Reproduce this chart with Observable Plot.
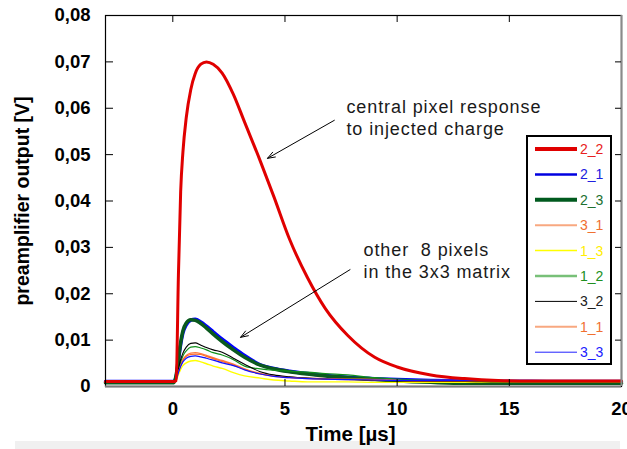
<!DOCTYPE html>
<html><head><meta charset="utf-8">
<script src="https://cdn.jsdelivr.net/npm/d3@7"></script>
<script src="https://cdn.jsdelivr.net/npm/@observablehq/plot@0.6"></script>
<style>
body{margin:0;background:#fff;}
#wrap{position:relative;width:627px;height:449px;overflow:hidden;}
#band{position:absolute;left:15px;top:441px;width:605px;height:8px;background:#f0f0f0;}
#chart{position:absolute;left:0;top:0;}
#chart svg{background:transparent !important;}
</style></head><body>
<div id="wrap"><div id="band"></div><div id="chart"></div></div>
<script>
// time in microseconds
const time = [-3, -1.5, 0, 0.05, 0.15, 0.25, 0.35, 0.45, 0.6, 0.8, 1.0, 1.25, 1.5, 1.8, 2.2, 2.7, 3.2, 3.9, 4.5, 5.2, 6, 6.8, 7.8, 9, 10, 11.5, 13, 14.5, 16, 18, 20];
// preamplifier output [V]
const v22 = [0.0011,0.0011,0.0011,0.0011,0.0013,0.024,0.042,0.0505,0.058,0.064,0.0675,0.0695,0.0700,0.0695,0.0676,0.0630,0.0570,0.0486,0.0410,0.0318,0.0235,0.0168,0.0110,0.0063,0.0042,0.0025,0.0017,0.0013,0.0012,0.0012,0.0012];
const v21 = [0.0011,0.0011,0.0011,0.0011,0.0022,0.0055,0.0090,0.0115,0.0133,0.0143,0.0145,0.0139,0.0130,0.0118,0.0102,0.0084,0.0067,0.0047,0.0039,0.0033,0.0028,0.0024,0.0020,0.0017,0.0015,0.0013,0.0012,0.0011,0.0011,0.0010,0.0010];
const v23 = [0.0008,0.0008,0.0008,0.0009,0.0024,0.0060,0.0095,0.0120,0.0137,0.0144,0.0143,0.0136,0.0126,0.0113,0.0097,0.0079,0.0063,0.0046,0.0038,0.0032,0.0027,0.0023,0.0019,0.0015,0.0012,0.0009,0.0007,0.0007,0.0007,0.0007,0.0007];
const v31 = [0.0011,0.0011,0.0011,0.0011,0.0016,0.0032,0.0047,0.0058,0.0067,0.0072,0.0073,0.0071,0.0067,0.0062,0.0056,0.0048,0.0038,0.0028,0.0023,0.0020,0.0018,0.0017,0.0016,0.0015,0.0014,0.0013,0.0013,0.0012,0.0012,0.0012,0.0012];
const v13 = [0.0009,0.0009,0.0009,0.0009,0.0013,0.0026,0.0037,0.0045,0.0051,0.0055,0.0056,0.0053,0.0049,0.0044,0.0039,0.0030,0.0023,0.0018,0.0014,0.0012,0.0010,0.0010,0.0010,0.0009,0.0009,0.0009,0.0009,0.0009,0.0009,0.0009,0.0009];
const v12 = [0.0010,0.0010,0.0010,0.0010,0.0017,0.0035,0.0053,0.0066,0.0077,0.0085,0.0086,0.0083,0.0079,0.0073,0.0068,0.0058,0.0044,0.0038,0.0035,0.0033,0.0031,0.0028,0.0025,0.0019,0.0016,0.0013,0.0012,0.0011,0.0011,0.0011,0.0011];
const v32 = [0.0010,0.0010,0.0010,0.0010,0.0018,0.0038,0.0058,0.0072,0.0085,0.0093,0.0094,0.0089,0.0084,0.0079,0.0074,0.0061,0.0048,0.0032,0.0025,0.0021,0.0018,0.0016,0.0015,0.0013,0.0012,0.0011,0.0011,0.0010,0.0010,0.0010,0.0010];
const v11 = [0.0011,0.0011,0.0011,0.0011,0.0015,0.0031,0.0045,0.0056,0.0065,0.0069,0.0070,0.0069,0.0065,0.0060,0.0054,0.0046,0.0037,0.0027,0.0022,0.0019,0.0017,0.0016,0.0015,0.0014,0.0013,0.0012,0.0012,0.0012,0.0012,0.0012,0.0012];
const v33 = [0.0012,0.0012,0.0012,0.0012,0.0015,0.0030,0.0043,0.0053,0.0061,0.0065,0.0066,0.0064,0.0061,0.0057,0.0051,0.0045,0.0036,0.0027,0.0022,0.0019,0.0017,0.0016,0.0015,0.0014,0.0013,0.0013,0.0013,0.0013,0.0013,0.0013,0.0013];

const seriesNames = ["2_2","2_1","2_3","3_1","1_3","1_2","3_2","1_1","3_3"];
const seriesArrays = [v22, v21, v23, v31, v13, v12, v32, v11, v33];
const lineColors = ["#e00000","#0000ff","#0a5a1e","#ff7a40","#ffff00","#10901a","#000000","#ff6a28","#1010ff"];
const lineWidths = [3, 3.4, 3.6, 1.4, 1.4, 1.2, 1.1, 1.2, 1.2];
const legendLineColors = ["#e00000","#0000e0","#005a1e","#f8a880","#ffff00","#78c078","#000000","#f8a880","#2020ff"];
const legendLineWidths = [4, 2.5, 4, 2, 1.5, 2.5, 1, 2, 1];
const legendTextColors = ["#e82020","#2020e0","#207030","#f07030","#ffee00","#209020","#202020","#f07030","#2020ff"];
const drawOrder = ["2_1","2_3","3_1","1_3","1_2","3_2","1_1","3_3","2_2"];

const yTicks = [0, 0.01, 0.02, 0.03, 0.04, 0.05, 0.06, 0.07, 0.08];
const yInnerTicks = [0.01, 0.02, 0.03, 0.04, 0.05, 0.06, 0.07];
const xTicks = [0, 5, 10, 15, 20];
const xTopTicks = [0, 5, 10, 15];
const xBottomTicks = [5, 10, 15];

const annoText = ["central pixel response", "to injected charge", "other \u00a08 pixels", "in the 3x3 matrix"];
const annoX = [7.74, 7.74, 8.5, 8.5];
const annoY = [0.0602, 0.0554, 0.0293, 0.0246];
const arrowX1 = [7.2, 7.9], arrowY1 = [0.0574, 0.0252], arrowX2 = [4.22, 3.02], arrowY2 = [0.0492, 0.0106];

const rows = seriesNames.map((name, k) => time.map((t, i) => ({series: name, t, v: seriesArrays[k][i]})));
const fmt = d => d === 0 ? "0" : d3.format(".2f")(d).replace(".", ",");
const font = "Liberation Sans, Arial, sans-serif";

const W = 627, H = 449, mL = 105, mR = 6, mT = 15, mB = 63;
const plotW = W - mL - mR, plotH = H - mT - mB;

const lineMarks = drawOrder.map(name => {
  const k = seriesNames.indexOf(name);
  return Plot.line(rows[k], {x: "t", y: "v", stroke: lineColors[k], strokeWidth: lineWidths[k], curve: "monotone-x"});
});

const chart = Plot.plot({
  width: W, height: H,
  marginLeft: mL, marginRight: mR, marginTop: mT, marginBottom: mB,
  style: {fontFamily: font, background: "transparent", color: "#000"},
  x: {domain: [-3, 20]},
  y: {domain: [0, 0.08]},
  marks: [
    ...lineMarks,
    Plot.frame({stroke: "#000", strokeWidth: 1.2}),
    Plot.ruleY([0], {stroke: "#7a7a7a", strokeWidth: 2}),
    Plot.ruleX([20], {stroke: "#8a8a8a", strokeWidth: 2}),
    // inward tick marks
    Plot.tickY(yInnerTicks, {y: d => d, insetRight: plotW - 8, stroke: "#000", strokeWidth: 1}),
    Plot.tickY(yInnerTicks, {y: d => d, insetLeft: plotW - 6, stroke: "#000", strokeWidth: 1}),
    Plot.tickX(xTopTicks, {x: d => d, insetBottom: plotH - 7, stroke: "#000", strokeWidth: 1}),
    Plot.tickX(xBottomTicks, {x: d => d, insetTop: plotH - 7, stroke: "#000", strokeWidth: 1}),
    Plot.axisY({ticks: yTicks, tickSize: 0, tickPadding: 15, tickFormat: fmt, fontWeight: "bold", fontSize: 18.5, label: null}),
    Plot.axisX({ticks: xTicks, tickSize: 0, tickPadding: 15, fontWeight: "bold", fontSize: 18.5, label: null}),
    Plot.text(["preamplifier output [V]"], {frameAnchor: "left", rotate: -90, dx: -83, textAnchor: "middle", lineAnchor: "middle", fontWeight: "bold", fontSize: 19.5}),
    Plot.text(["Time [µs]"], {frameAnchor: "bottom", dy: 48, dx: -13, textAnchor: "middle", lineAnchor: "middle", fontWeight: "bold", fontSize: 20.5}),
    Plot.text(annoText, {x: (d, i) => annoX[i], y: (d, i) => annoY[i], text: d => d, textAnchor: "start", fontSize: 18, fill: "#1a1a1a"}),
    Plot.arrow(arrowX1, {x1: (d, i) => arrowX1[i], y1: (d, i) => arrowY1[i], x2: (d, i) => arrowX2[i], y2: (d, i) => arrowY2[i], stroke: "#000", strokeWidth: 1, headLength: 12, headAngle: 40})
  ]
});

const svg = d3.select(chart);
svg.selectAll("text").filter(function() { return annoText.includes(this.textContent); }).attr("letter-spacing", "0.9px");

// legend box inside the plot
const lg = svg.append("g").attr("font-family", font).attr("font-size", 14).attr("text-anchor", "start");
lg.append("rect").attr("x", 527).attr("y", 136).attr("width", 84).attr("height", 228)
  .attr("fill", "#fff").attr("stroke", "#000").attr("stroke-width", 2);
seriesNames.forEach((name, i) => {
  const yy = 149 + i * 25.4;
  lg.append("line").attr("x1", 535).attr("x2", 577).attr("y1", yy).attr("y2", yy)
    .attr("stroke", legendLineColors[i]).attr("stroke-width", legendLineWidths[i]);
  lg.append("text").attr("x", 580).attr("y", yy).attr("dy", "0.36em").attr("text-anchor", "start")
    .attr("fill", legendTextColors[i]).text(name);
});

document.getElementById("chart").appendChild(chart);
</script>
</body></html>
